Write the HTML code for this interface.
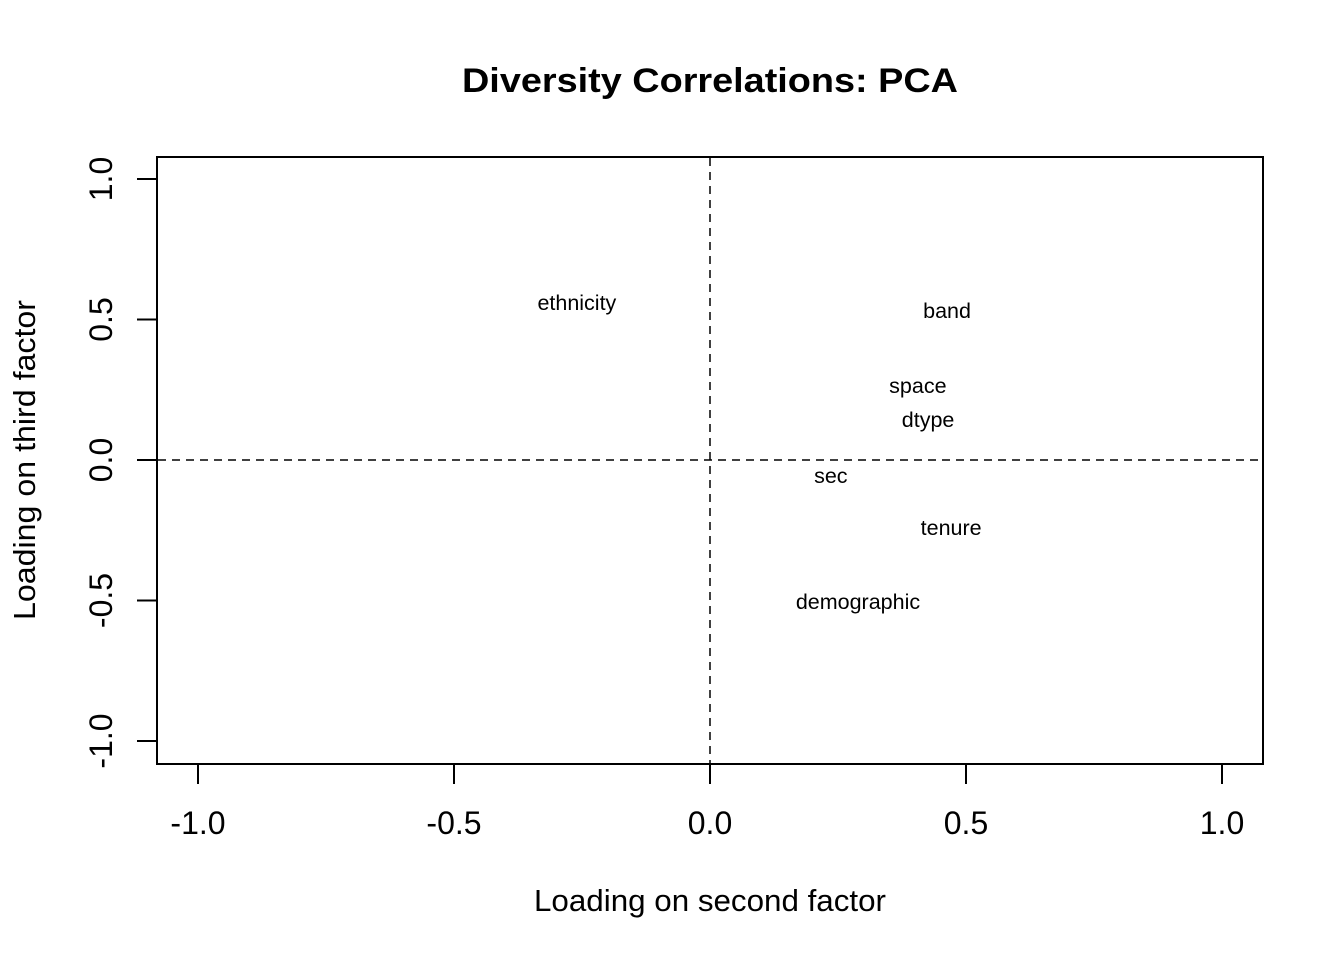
<!DOCTYPE html>
<html><head><meta charset="utf-8"><style>
html,body{margin:0;padding:0;background:#fff}
svg{display:block;font-family:"Liberation Sans",Arial,sans-serif}
</style></head><body>
<svg id="chart" width="1344" height="960" xmlns="http://www.w3.org/2000/svg">
<text x="710" y="92" text-anchor="middle" font-size="34" font-weight="bold" textLength="496" lengthAdjust="spacingAndGlyphs">Diversity Correlations: PCA</text>
<rect x="157" y="157" width="1106" height="607" fill="none" stroke="#000" stroke-width="2"/>
<text x="710" y="911" text-anchor="middle" font-size="31" textLength="352" lengthAdjust="spacingAndGlyphs">Loading on second factor</text>
<text transform="translate(35,460) rotate(-90)" text-anchor="middle" font-size="31" textLength="320" lengthAdjust="spacingAndGlyphs">Loading on third factor</text>
<g id="axes"></g>
<g id="marks"></g>
</svg>
<script>
const labels=["ethnicity","band","space","dtype","sec","tenure","demographic"];
const xVals=[-0.26,0.463,0.406,0.426,0.236,0.471,0.289];
const yVals=[0.559,0.53,0.263,0.142,-0.057,-0.242,-0.505];
const xTicks=[-1,-0.5,0,0.5,1];
const yTicks=[-1,-0.5,0,0.5,1];
const xTickLabels=["-1.0","-0.5","0.0","0.5","1.0"];
const yTickLabels=["-1.0","-0.5","0.0","0.5","1.0"];

const ns="http://www.w3.org/2000/svg";
const X=v=>710+v*512;
const Y=v=>460-v*281;
const axes=document.getElementById('axes');
const marks=document.getElementById('marks');
function mk(tag,attrs,parent){const e=document.createElementNS(ns,tag);for(const k in attrs)e.setAttribute(k,attrs[k]);parent.appendChild(e);return e;}
let l=mk('line',{x1:X(xTicks[0]),x2:X(xTicks[xTicks.length-1]),y1:764,y2:764,stroke:'#000','stroke-width':2},axes);


xTicks.forEach((t,i)=>{
 const tk=mk('line',{x1:X(t),x2:X(t),y1:764,y2:784,stroke:'#000','stroke-width':2},axes);
 
 
 const tx=mk('text',{x:X(t),y:834,'text-anchor':'middle','font-size':32},axes);
 tx.textContent=xTickLabels[i];
 
 
});
l=mk('line',{x1:157,x2:157,y1:Y(yTicks[0]),y2:Y(yTicks[yTicks.length-1]),stroke:'#000','stroke-width':2},axes);


yTicks.forEach((t,i)=>{
 const tk=mk('line',{x1:137,x2:157,y1:Y(t),y2:Y(t),stroke:'#000','stroke-width':2},axes);
 
 
 const tx=mk('text',{transform:`translate(112,${Y(t)}) rotate(-90)`,'text-anchor':'middle','font-size':32},axes);
 tx.textContent=yTickLabels[i];
 
 
});
l=mk('line',{x1:X(0),x2:X(0),y1:158,y2:763,stroke:'#000','stroke-width':1.5,'stroke-dasharray':'8,6'},marks);


l=mk('line',{x1:158,x2:1262,y1:Y(0),y2:Y(0),stroke:'#000','stroke-width':1.5,'stroke-dasharray':'8,6'},marks);


labels.forEach((s,i)=>{
 const t=mk('text',{x:X(xVals[i]),y:Y(yVals[i])+7,'text-anchor':'middle','font-size':21.5},marks);
 t.textContent=s;
 
 
});
</script>
</body></html>
